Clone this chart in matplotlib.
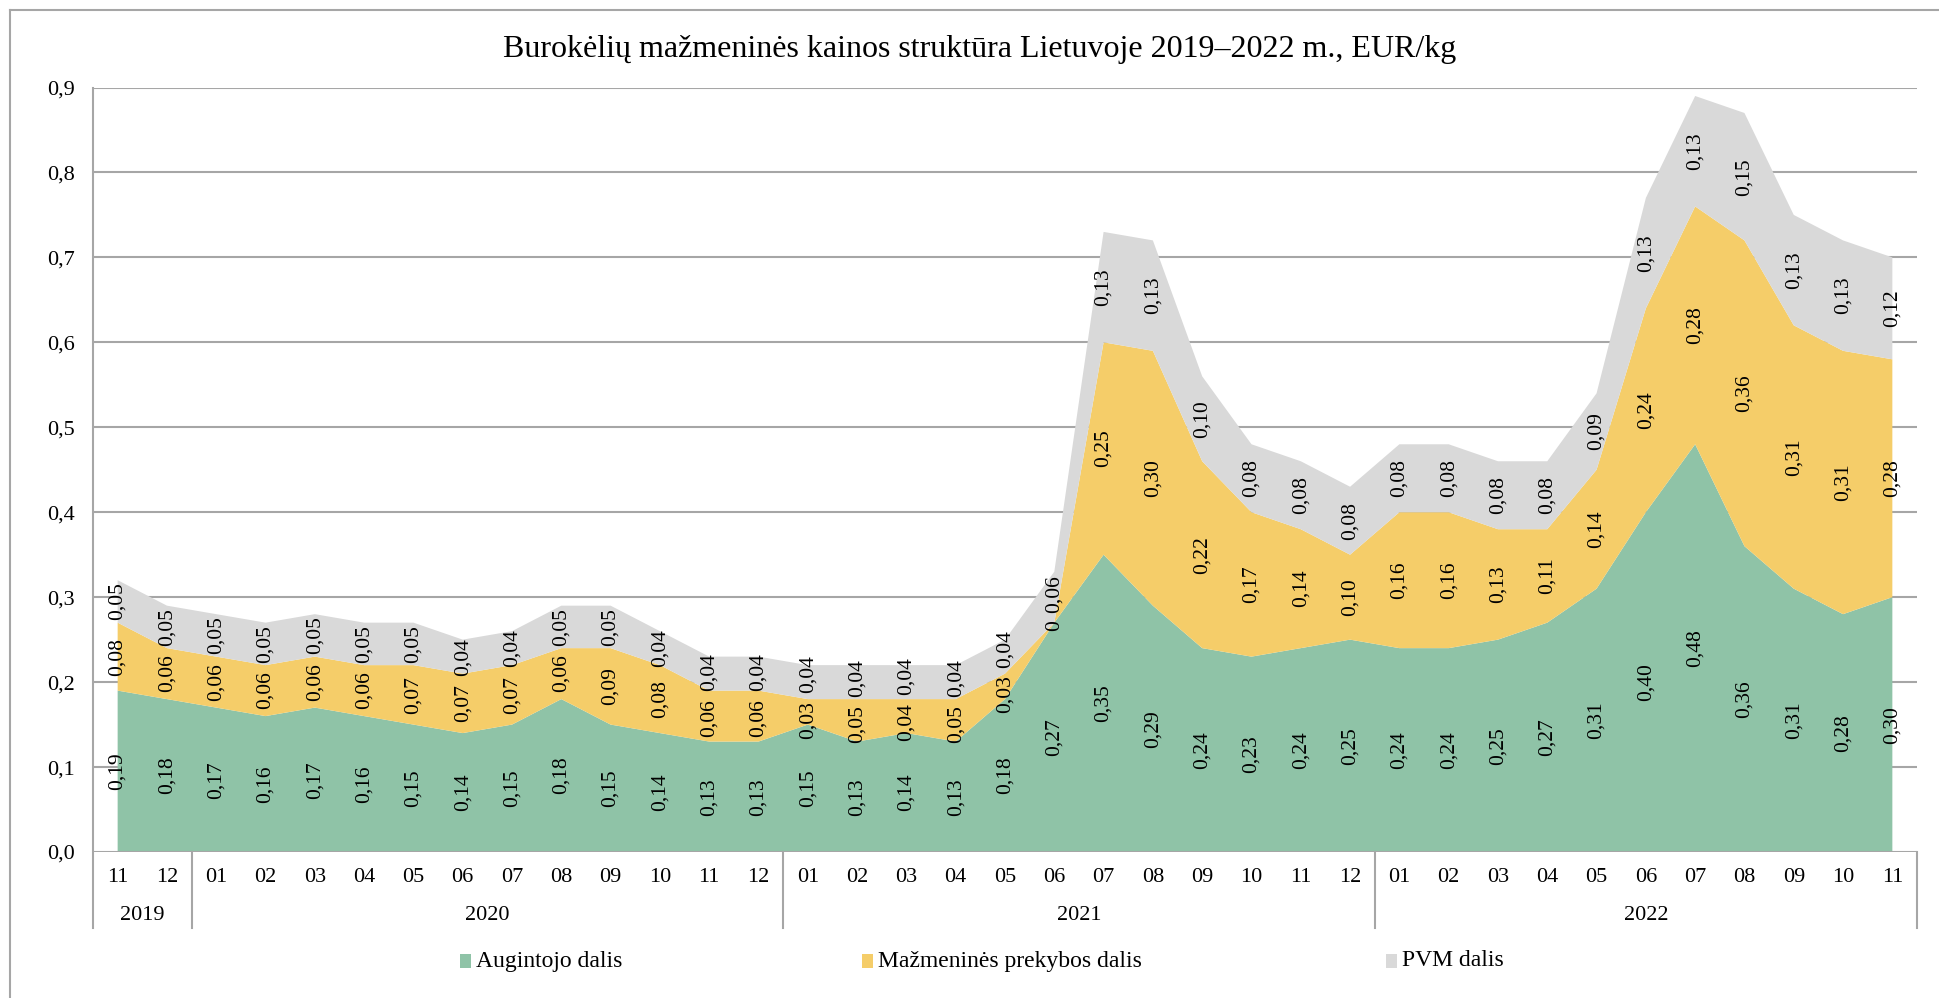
import matplotlib
matplotlib.use("Agg")
import matplotlib.pyplot as plt
import matplotlib.transforms as mtransforms
from matplotlib.patches import Rectangle
from matplotlib.lines import Line2D
import numpy as np

plt.rcParams["font.family"] = ["Liberation Serif", "DejaVu Serif"]

# Monthly data 2019-11 .. 2022-11
months = ["11", "12",
          "01", "02", "03", "04", "05", "06", "07", "08", "09", "10", "11", "12",
          "01", "02", "03", "04", "05", "06", "07", "08", "09", "10", "11", "12",
          "01", "02", "03", "04", "05", "06", "07", "08", "09", "10", "11"]
years = ["2019", "2020", "2021", "2022"]
year_counts = [2, 12, 12, 11]

augintojo = [0.19, 0.18,
             0.17, 0.16, 0.17, 0.16, 0.15, 0.14, 0.15, 0.18, 0.15, 0.14, 0.13, 0.13,
             0.15, 0.13, 0.14, 0.13, 0.18, 0.27, 0.35, 0.29, 0.24, 0.23, 0.24, 0.25,
             0.24, 0.24, 0.25, 0.27, 0.31, 0.40, 0.48, 0.36, 0.31, 0.28, 0.30]
prekybos = [0.08, 0.06,
            0.06, 0.06, 0.06, 0.06, 0.07, 0.07, 0.07, 0.06, 0.09, 0.08, 0.06, 0.06,
            0.03, 0.05, 0.04, 0.05, 0.03, 0.00, 0.25, 0.30, 0.22, 0.17, 0.14, 0.10,
            0.16, 0.16, 0.13, 0.11, 0.14, 0.24, 0.28, 0.36, 0.31, 0.31, 0.28]
pvm = [0.05, 0.05,
       0.05, 0.05, 0.05, 0.05, 0.05, 0.04, 0.04, 0.05, 0.05, 0.04, 0.04, 0.04,
       0.04, 0.04, 0.04, 0.04, 0.04, 0.06, 0.13, 0.13, 0.10, 0.08, 0.08, 0.08,
       0.08, 0.08, 0.08, 0.08, 0.09, 0.13, 0.13, 0.15, 0.13, 0.13, 0.12]

series_names = ["Augintojo dalis", "Mažmeninės prekybos dalis", "PVM dalis"]
colors = ["#8FC3A7", "#F5CD69", "#D9D9D9"]
grid_color = "#A6A6A6"

W, H = 1939, 998
fig = plt.figure(figsize=(W / 100, H / 100), dpi=100)
left, right, top, bottom = 93, 1917, 87.5, 852
ax = fig.add_axes([left / W, 1 - bottom / H, (right - left) / W, (bottom - top) / H])

x = np.arange(len(months))
ax.stackplot(x, augintojo, prekybos, pvm, colors=colors, linewidth=0, zorder=2)

ax.set_xlim(-0.5, len(months) - 0.5)
ax.set_ylim(0, 0.9)
yt = np.arange(0, 0.91, 0.1)
ax.set_yticks(yt)
ax.set_yticklabels([f"{v:.1f}".replace(".", ",") for v in yt], fontsize=16)
ax.tick_params(axis="y", length=0, pad=13)
ax.set_xticks([])
for y in yt[1:]:
    ax.axhline(y, color=grid_color, lw=1.5, zorder=1)
ax.axhline(0, color=grid_color, lw=1.5, zorder=3)
for s in ax.spines.values():
    s.set_visible(False)

# data labels in the middle of each band, nudged apart where they would collide
label_fs = 15.5
em = label_fs * 100 / 72
px_per_unit = (bottom - top) / 0.9
gap = 8
series = [np.array(augintojo), np.array(prekybos), np.array(pvm)]
for i in range(len(months)):
    base = 0.0
    texts, pos, half = [], [], []
    for v in series:
        val = v[i]
        txt = "0" if val == 0 else f"{val:.2f}".replace(".", ",")
        texts.append(txt)
        pos.append((base + val / 2) * px_per_unit)
        half.append(0.5 * em * (0.5 * sum(ch.isdigit() for ch in txt) + 0.25 * txt.count(",")))
        base += val
    for _ in range(5):
        for k in range(len(pos) - 1):
            need = half[k] + half[k + 1] + gap
            d = pos[k + 1] - pos[k]
            if d < need:
                shift = (need - d) / 2
                pos[k] -= shift
                pos[k + 1] += shift
    for txt, p in zip(texts, pos):
        ax.text(x[i], p / px_per_unit, txt, rotation=90, ha="center", va="center",
                fontsize=label_fs, zorder=4)

# category axis: months and years below the plot
trans = mtransforms.blended_transform_factory(ax.transData, ax.transAxes)
axh = bottom - top
for i, m in enumerate(months):
    ax.text(i, -26 / axh, m, transform=trans, ha="center", va="center", fontsize=16)

start = 0
bounds = [-0.5]
for yr, n in zip(years, year_counts):
    ax.text(start + (n - 1) / 2, -64 / axh, yr, transform=trans, ha="center", va="center", fontsize=16)
    start += n
    bounds.append(start - 0.5)
for b in bounds:
    ax.add_line(Line2D([b, b], [-76 / axh, 1 if b == -0.5 else 0], transform=trans,
                       color=grid_color, lw=1.5, clip_on=False, zorder=3))

fig.text(980 / W, 1 - 49 / H, "Burokėlių mažmeninės kainos struktūra Lietuvoje 2019–2022 m., EUR/kg",
         ha="center", va="center", fontsize=23)

# legend row
leg_y = 961
for name, c, sx in zip(series_names, colors, [460, 862, 1386]):
    fig.patches.append(Rectangle((sx / W, 1 - (leg_y + 7) / H), 11 / W, 14 / H,
                                 transform=fig.transFigure, facecolor=c, edgecolor="none"))
    fig.text((sx + 16) / W, 1 - leg_y / H, name, ha="left", va="center", fontsize=17)

# outer frame
fig.add_artist(Line2D([10 / W, 10 / W], [0, 1 - 10 / H], color=grid_color, lw=1.5))
fig.add_artist(Line2D([10 / W, 1], [1 - 10 / H, 1 - 10 / H], color=grid_color, lw=1.5))

fig.savefig("out.png", dpi=100)
